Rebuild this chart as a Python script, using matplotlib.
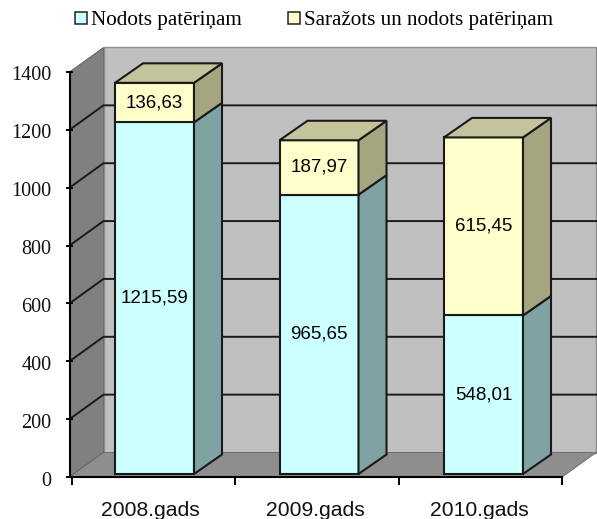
import matplotlib
matplotlib.use("Agg")
import matplotlib.pyplot as plt
from matplotlib.patches import Polygon, Patch

categories = ["2008.gads", "2009.gads", "2010.gads"]
series_names = ["Nodots patēriņam", "Saražots un nodots patēriņam"]
delivered = [1215.59, 965.65, 548.01]
produced = [136.63, 187.97, 615.45]
delivered_labels = ["1215,59", "965,65", "548,01"]
produced_labels = ["136,63", "187,97", "615,45"]
y_ticks = [0, 200, 400, 600, 800, 1000, 1200, 1400]

W, H = 597, 519
fig = plt.figure(figsize=(W / 100, H / 100), dpi=100)
ax = fig.add_axes([0, 0, 1, 1])
ax.axis("off")

# Pixel layout of the oblique projection
X0, CAT = 72.0, 163.4        # left end of the category axis, category width
BAR_STEP = 164.5 / 163.4     # bars are spaced slightly wider than the ticks
Y0, YTOP = 477.0, 72.0       # pixel rows of value 0 and 1400
VPX = (Y0 - YTOP) / 1400.0
ax.set_xlim(-X0 / CAT - 0.5, (W - X0) / CAT - 0.5)
ax.set_ylim(-(H - Y0) / VPX, Y0 / VPX)
px = 1.0 / CAT               # one pixel in x data units
py = 1.0 / VPX               # one pixel in y data units

dx_w, dy_w = 34 * px, 24.5 * py     # wall depth
dx_b, dy_b = 28 * px, 19.5 * py     # bar depth
x_l, x_r = -0.5 - 2.5 * px, 2.5
vmax = y_ticks[-1]
EDGE = "#1a1a1a"

# Walls and floor
ax.add_patch(Polygon([(x_l, 0), (x_l + dx_w, dy_w), (x_l + dx_w, vmax + dy_w), (x_l, vmax)],
                     fc="#808080", ec="#555555", lw=0.6, zorder=1))
ax.add_patch(Polygon([(x_l + dx_w, dy_w), (x_r + dx_w, dy_w), (x_r + dx_w, vmax + dy_w), (x_l + dx_w, vmax + dy_w)],
                     fc="#C0C0C0", ec="#8c8c8c", lw=1.0, zorder=1))
ax.add_patch(Polygon([(x_l, 0), (x_r, 0), (x_r + dx_w, dy_w), (x_l + dx_w, dy_w)],
                     fc="#8E8E8E", ec="#666666", lw=0.6, zorder=1))

# Gridlines
for v in y_ticks[1:-1]:
    ax.plot([x_l, x_l + dx_w, x_r + dx_w], [v, v + dy_w, v + dy_w], color=EDGE, lw=1.4,
            solid_joinstyle="miter", zorder=2)

# Axes
ax.plot([x_l, x_l], [0, vmax], color="black", lw=1.5, zorder=6)
ax.plot([x_l, x_r], [0, 0], color="black", lw=1.5, zorder=6)
for v in y_ticks:
    ax.plot([x_l - 2.5 * px, x_l + 2 * px], [v, v], color="black", lw=1.4, zorder=6)
    ax.text(x_l - 18 * px, v - 4 * py, str(v), ha="right", va="center", fontsize=14.5,
            family="Liberation Serif", color="#111111")
for i in range(len(categories) + 1):
    xt = -0.5 + i
    ax.plot([xt, xt], [0, -7 * py], color="black", lw=1.4, zorder=6)


def box(xc, lo, hi, front, side, top, last):
    left, right = xc - 39.5 * px, xc + 39.5 * px
    z = 3
    ax.add_patch(Polygon([(left, lo), (right, lo), (right, hi), (left, hi)],
                         fc=front, ec=EDGE, lw=1.5, joinstyle="miter", zorder=z))
    ax.add_patch(Polygon([(right, lo), (right + dx_b, lo + dy_b), (right + dx_b, hi + dy_b), (right, hi)],
                         fc=side, ec=EDGE, lw=1.5, joinstyle="miter", zorder=z))
    if last:
        ax.add_patch(Polygon([(left, hi), (right, hi), (right + dx_b, hi + dy_b), (left + dx_b, hi + dy_b)],
                             fc=top, ec=EDGE, lw=1.5, joinstyle="miter", zorder=z))


base = 3 * py
for i in range(len(categories)):
    xc = i * BAR_STEP + 0.8 * px
    y1 = base + delivered[i]
    y2 = y1 + produced[i]
    box(xc, base, y1, "#CCFFFF", "#7FA3A3", "#A0C8C8", False)
    box(xc, y1, y2, "#FFFFCC", "#A5A57F", "#C4C49C", True)
    ax.text(xc, base + delivered[i] / 2, delivered_labels[i], ha="center", va="center",
            fontsize=13.5, family="Liberation Sans", color="black", zorder=7)
    ax.text(xc, y1 + produced[i] / 2, produced_labels[i], ha="center", va="center",
            fontsize=13.5, family="Liberation Sans", color="black", zorder=7)
    ax.text(i * BAR_STEP - 3 * px, -33 * py, categories[i], ha="center", va="center", fontsize=15.2,
            family="Liberation Sans", color="#111111", zorder=7)

handles = [Patch(fc="#CCFFFF", ec="#222222", lw=1.1), Patch(fc="#FFFFCC", ec="#222222", lw=1.1)]
leg = ax.legend(handles, series_names, ncols=2, frameon=False, loc="center",
                bbox_to_anchor=(314 / W, 1 - 21 / H), bbox_transform=fig.transFigure,
                prop={"family": "Liberation Serif", "size": 15.2}, handlelength=0.55, handleheight=0.55,
                handletextpad=0.2, columnspacing=2.2, borderpad=0, borderaxespad=0)

fig.savefig("out.png", dpi=100)
